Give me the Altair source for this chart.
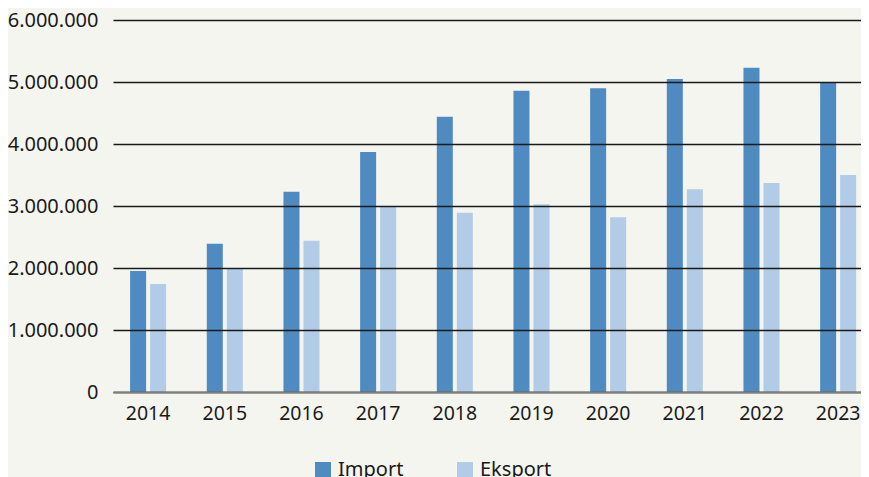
import altair as alt
import pandas as pd

years = ["2014", "2015", "2016", "2017", "2018", "2019", "2020", "2021", "2022", "2023"]
import_vals = [1950000, 2390000, 3230000, 3870000, 4440000, 4860000, 4900000, 5050000, 5230000, 4990000]
export_vals = [1740000, 2000000, 2440000, 3000000, 2890000, 3030000, 2820000, 3270000, 3370000, 3500000]
series = ["Import", "Eksport"]
colors = ["#4f8bc1", "#b2cbe6"]
y_ticks = [0, 1000000, 2000000, 3000000, 4000000, 5000000, 6000000]

rows = []
for i, y in enumerate(years):
    rows.append({"year": y, "serie": series[0], "value": import_vals[i]})
    rows.append({"year": y, "serie": series[1], "value": export_vals[i]})
df = pd.DataFrame(rows)

FONT = "Noto Sans"

chart = alt.Chart(df).mark_bar().encode(
    x=alt.X("year:N", sort=years, title=None,
            scale=alt.Scale(paddingInner=0.53, paddingOuter=0.143, align=0.78),
            axis=alt.Axis(labelAngle=0, ticks=False, domain=True, domainColor="#808080",
                          domainWidth=2, labelPadding=12, labelFontSize=19.5,
                          labelColor="#1a1a1a", labelFont=FONT, zindex=1)),
    xOffset=alt.XOffset("serie:N", sort=series, scale=alt.Scale(paddingInner=0.2)),
    y=alt.Y("value:Q", title=None,
            scale=alt.Scale(domain=[0, 6000000], nice=False),
            axis=alt.Axis(values=y_ticks, format=",.0f", domain=False, ticks=False,
                          gridColor="#1a1a1a", gridWidth=1.3, labelPadding=15,
                          labelFontSize=20, labelColor="#1a1a1a", labelFont=FONT,
                          zindex=1,
                          labelExpr="replace(datum.label, /,/g, '.')")),
    color=alt.Color("serie:N", sort=series, title=None,
                    scale=alt.Scale(domain=series, range=colors),
                    legend=alt.Legend(orient="none", legendX=200, legendY=440,
                                      direction="horizontal", symbolType="square",
                                      symbolSize=256, symbolStrokeWidth=0,
                                      labelFontSize=20, labelFont=FONT,
                                      labelColor="#1a1a1a", columnPadding=51,
                                      labelOffset=5)),
).properties(
    width=748, height=372,
    background="#f5f5f0",
    padding={"left": 105, "top": 12, "right": 0, "bottom": 85},
    autosize=alt.AutoSizeParams(type="none"),
).configure_view(stroke=None)

chart.save("out.html", embed_options={"renderer": "svg", "actions": False})
